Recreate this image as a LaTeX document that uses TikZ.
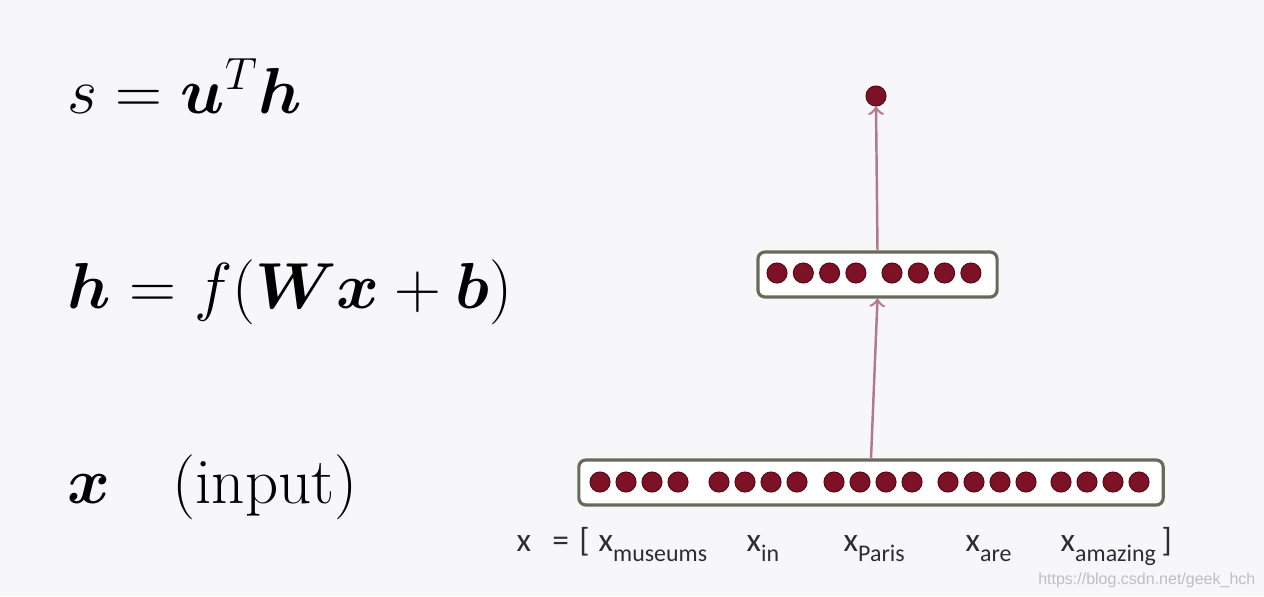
\documentclass[tikz,border=0pt]{standalone}
\usepackage{amsmath,bm}
\usepackage{fontspec}
\usetikzlibrary{positioning}
\newfontfamily\lblfont{Carlito}
\newfontfamily\wmfont{Liberation Sans}
\definecolor{bgcol}{RGB}{247,247,249}
\definecolor{dotred}{RGB}{125,18,38}
\definecolor{dotedge}{RGB}{90,10,25}
\definecolor{boxedge}{RGB}{105,105,92}
\definecolor{arrcol}{RGB}{180,120,140}
\definecolor{lblcol}{RGB}{45,45,45}
\newcommand{\xsub}[1]{x\raisebox{-3pt}{\fontsize{6.8}{8}\selectfont #1}}
\newcommand{\bigeq}[1]{\scalebox{1.07}{\LARGE #1}}
\tikzset{
  neuron/.style={circle,fill=dotred,draw=dotedge,line width=0.3pt,inner sep=0pt,minimum size=0.2cm},
  layerbox/.style={draw=boxedge,line width=0.9pt,rounded corners=0.07cm,fill=white,minimum height=0.45cm},
  eqn/.style={anchor=base west,inner sep=0pt},
  wordlbl/.style={anchor=base west,inner sep=0pt,text=lblcol,font=\lblfont\fontsize{9.5}{11}\selectfont},
  arr/.style={->,draw=arrcol,line width=0.7pt}
}
\begin{document}
\begin{tikzpicture}[x=0.01cm,y=-0.01cm]
\fill[bgcol] (0,0) rectangle (1264,596);
\useasboundingbox (0,0) rectangle (1264,596);
% equations on the left
\node[eqn] (eqs) at (67,113) {\bigeq{$s=\bm{u}^T\bm{h}$}};
\node[eqn] (eqh) at (67,308) {\bigeq{$\bm{h}=f(\bm{W}\bm{x}+\bm{b})$}};
\node[eqn] (eqx) at (67,503) {\bigeq{$\bm{x}$\hspace{16.5pt}(input)}};
% layers
\node[layerbox,minimum width=5.84cm] (xbox) at (871,482.5) {};
\node[layerbox,minimum width=2.39cm] (hbox) at (877.5,274.5) {};
\node[neuron] (s) at (876,96) {};
\foreach \g/\gx in {1/600,2/719,3/834,4/948,5/1061}
  \foreach \i in {0,...,3}
    \node[neuron] (x-\g-\i) at (\gx+26*\i,482) {};
\foreach \g/\gx in {1/777,2/892}
  \foreach \i in {0,...,3}
    \node[neuron] (h-\g-\i) at (\gx+26.3*\i,273) {};
\draw[arr] (xbox.north) -- (hbox.south);
\draw[arr] (hbox.north) -- (s.south);
% word labels
\node[wordlbl] (lx) at (516,551) {x\hspace{6pt}=\hspace{3pt}[};
\node[wordlbl] (lmus) at (598,551) {\xsub{museums}};
\node[wordlbl] (lin) at (746,551) {\xsub{in}};
\node[wordlbl] (lpar) at (843,551) {\xsub{Paris}};
\node[wordlbl] (lare) at (965,551) {\xsub{are}};
\node[wordlbl] (lama) at (1060,551) {\xsub{amazing}};
\node[wordlbl] (lend) at (1161,551) {]};
\node[anchor=base east,inner sep=0pt,font=\wmfont\fontsize{4.55}{6}\selectfont,text=black!25] (wm) at (1256,584) {https://blog.csdn.net/geek\_hch};
\end{tikzpicture}
\end{document}
